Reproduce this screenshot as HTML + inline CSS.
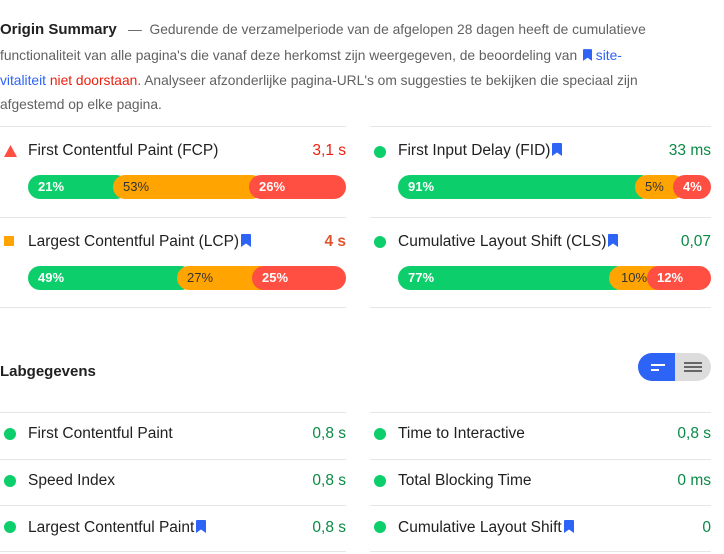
<!DOCTYPE html>
<html><head><meta charset="utf-8"><style>
*{margin:0;padding:0;box-sizing:border-box}
body{width:724px;height:554px;background:#fff;font-family:"Liberation Sans",sans-serif;position:relative;overflow:hidden;color:#212121}
.a{position:absolute;white-space:nowrap}
.hl{font-size:13.8px;color:#616161;line-height:20px}
.hr{position:absolute;height:1px;background:#e6e6e6}
.t{font-size:15.5px;color:#212121;line-height:20px}
.v{font-size:15.5px;line-height:20px;text-align:right}
.g{color:#0a8a45}.r{color:#eb1f0f}.o{color:#e0552e}
.dot{position:absolute;width:12px;height:12px;border-radius:50%;background:#0cce6b}
.bar{position:absolute;height:24px}
.seg{position:absolute;top:0;height:24px;border-radius:12px;font-size:13px;font-weight:bold;line-height:24px;padding-left:10px;color:#fff}
.G{background:#0cce6b}.O{background:#ffa400;color:#333;font-weight:normal}.R{background:#ff4e42}
.bm{display:inline-block;width:10px;height:13px;vertical-align:-1px;margin-left:2px}
</style></head><body>
<svg width="0" height="0" style="position:absolute"><defs><symbol id="b" viewBox="0 0 10 13"><path d="M0 1Q0 0 1 0H9Q10 0 10 1V13L5 9.5L0 13Z" fill="#2d64f5"/></symbol></defs></svg>

<div class="a" style="left:0;top:20px;font-size:15px;font-weight:bold;color:#212121;line-height:20px">Origin Summary</div>
<div class="a hl" style="left:128px;top:20px">—&nbsp; Gedurende de verzamelperiode van de afgelopen 28 dagen heeft de cumulatieve</div>
<div class="a hl" style="left:0;top:46px">functionaliteit van alle pagina's die vanaf deze herkomst zijn weergegeven, de beoordeling van <svg class="bm" style="width:9px;height:12px"><use href="#b"/></svg> <span style="color:#2d64f5">site-</span></div>
<div class="a hl" style="left:0;top:71px"><span style="color:#2d64f5">vitaliteit</span> <span style="color:#eb1f0f">niet doorstaan</span>. Analyseer afzonderlijke pagina-URL's om suggesties te bekijken die speciaal zijn</div>
<div class="a hl" style="left:0;top:95px">afgestemd op elke pagina.</div>

<div class="hr" style="left:0;top:126px;width:346px"></div>
<div class="hr" style="left:370px;top:126px;width:341px"></div>

<!-- FCP -->
<svg class="a" style="left:4px;top:145px" width="13" height="12"><path d="M6.5 0L13 12H0Z" fill="#ff4e42"/></svg>
<div class="a t" style="left:28px;top:141px">First Contentful Paint (FCP)</div>
<div class="a v r" style="right:378px;top:141px">3,1 s</div>
<div class="bar" style="left:28px;top:175px;width:318px">
<div class="seg G" style="left:0;width:100px">21%</div>
<div class="seg O" style="left:85px;width:150px">53%</div>
<div class="seg R" style="left:221px;width:97px">26%</div></div>

<!-- FID -->
<div class="dot" style="left:374px;top:146px"></div>
<div class="a t" style="left:398px;top:141px">First Input Delay (FID)<svg class="bm"><use href="#b"/></svg></div>
<div class="a v g" style="right:13px;top:141px">33 ms</div>
<div class="bar" style="left:398px;top:175px;width:313px">
<div class="seg G" style="left:0;width:255px">91%</div>
<div class="seg O" style="left:237px;width:50px">5%</div>
<div class="seg R" style="left:275px;width:38px">4%</div></div>

<div class="hr" style="left:0;top:217px;width:346px"></div>
<div class="hr" style="left:370px;top:217px;width:341px"></div>

<!-- LCP -->
<div class="a" style="left:4px;top:236px;width:10px;height:10px;background:#ffa400"></div>
<div class="a t" style="left:28px;top:232px">Largest Contentful Paint (LCP)<svg class="bm"><use href="#b"/></svg></div>
<div class="a v o" style="right:378px;top:232px;font-weight:bold">4 s</div>
<div class="bar" style="left:28px;top:266px;width:318px">
<div class="seg G" style="left:0;width:165px">49%</div>
<div class="seg O" style="left:149px;width:100px">27%</div>
<div class="seg R" style="left:224px;width:94px">25%</div></div>

<!-- CLS -->
<div class="dot" style="left:374px;top:236px"></div>
<div class="a t" style="left:398px;top:232px">Cumulative Layout Shift (CLS)<svg class="bm"><use href="#b"/></svg></div>
<div class="a v g" style="right:13px;top:232px">0,07</div>
<div class="bar" style="left:398px;top:266px;width:313px">
<div class="seg G" style="left:0;width:230px">77%</div>
<div class="seg O" style="left:211px;width:60px;padding-left:12px">10%</div>
<div class="seg R" style="left:249px;width:64px">12%</div></div>

<div class="hr" style="left:0;top:307px;width:346px"></div>
<div class="hr" style="left:370px;top:307px;width:341px"></div>

<div class="a" style="left:0;top:362px;font-size:15px;font-weight:bold;color:#212121;line-height:20px">Labgegevens</div>
<div class="a" style="left:638px;top:353px;width:73px;height:28px;border-radius:14px;background:#dcdcdc;overflow:hidden">
<div style="position:absolute;left:0;top:0;width:37px;height:28px;background:#2d64f5"></div>
<div style="position:absolute;left:13px;top:11px;width:14px;height:2px;background:#fff"></div>
<div style="position:absolute;left:13px;top:16px;width:8px;height:2px;background:#fff"></div>
<div style="position:absolute;left:46px;top:9px;width:18px;height:2px;background:#666"></div>
<div style="position:absolute;left:46px;top:13px;width:18px;height:2px;background:#666"></div>
<div style="position:absolute;left:46px;top:17px;width:18px;height:2px;background:#666"></div>
</div>

<div class="hr" style="left:0;top:412px;width:346px"></div>
<div class="hr" style="left:370px;top:412px;width:341px"></div>
<div class="hr" style="left:0;top:459px;width:346px"></div>
<div class="hr" style="left:370px;top:459px;width:341px"></div>
<div class="hr" style="left:0;top:505px;width:346px"></div>
<div class="hr" style="left:370px;top:505px;width:341px"></div>
<div class="hr" style="left:0;top:551px;width:346px"></div>
<div class="hr" style="left:370px;top:551px;width:341px"></div>

<div class="dot" style="left:4px;top:428px"></div>
<div class="a t" style="left:28px;top:424px">First Contentful Paint</div>
<div class="a v g" style="right:378px;top:424px">0,8 s</div>
<div class="dot" style="left:374px;top:428px"></div>
<div class="a t" style="left:398px;top:424px">Time to Interactive</div>
<div class="a v g" style="right:13px;top:424px">0,8 s</div>

<div class="dot" style="left:4px;top:475px"></div>
<div class="a t" style="left:28px;top:471px">Speed Index</div>
<div class="a v g" style="right:378px;top:471px">0,8 s</div>
<div class="dot" style="left:374px;top:475px"></div>
<div class="a t" style="left:398px;top:471px">Total Blocking Time</div>
<div class="a v g" style="right:13px;top:471px">0 ms</div>

<div class="dot" style="left:4px;top:521px"></div>
<div class="a t" style="left:28px;top:518px">Largest Contentful Paint<svg class="bm"><use href="#b"/></svg></div>
<div class="a v g" style="right:378px;top:518px">0,8 s</div>
<div class="dot" style="left:374px;top:521px"></div>
<div class="a t" style="left:398px;top:518px">Cumulative Layout Shift<svg class="bm"><use href="#b"/></svg></div>
<div class="a v g" style="right:13px;top:518px">0</div>
</body></html>
